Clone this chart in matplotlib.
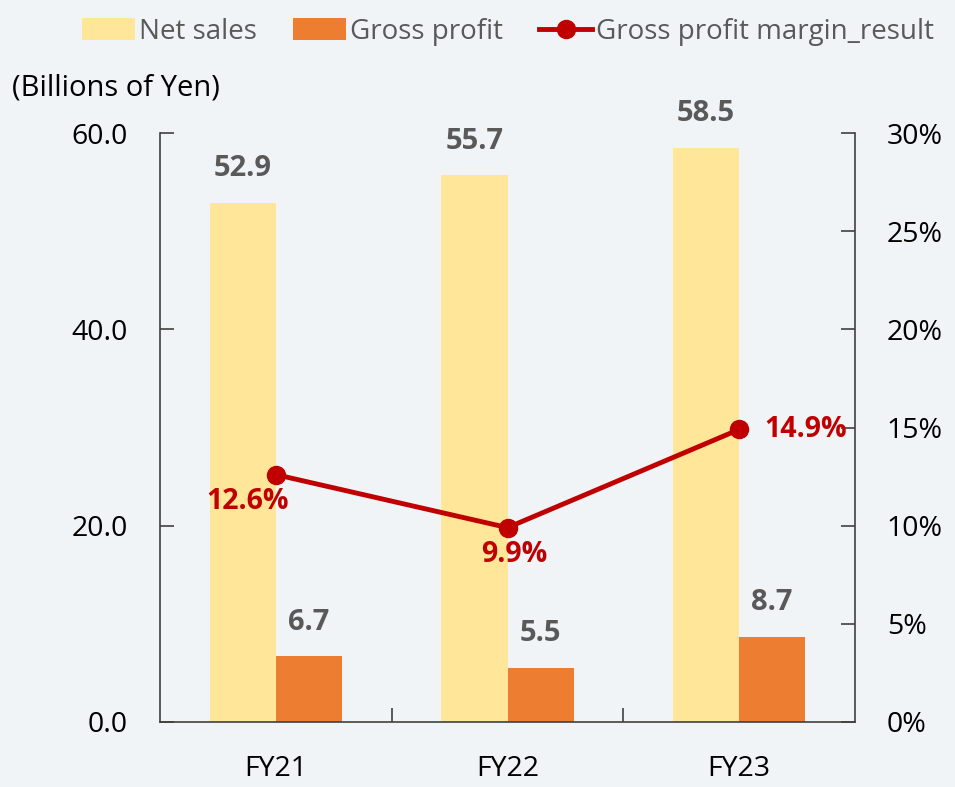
import matplotlib
matplotlib.use("Agg")
import matplotlib.pyplot as plt
import numpy as np

categories = ["FY21", "FY22", "FY23"]
net_sales = [52.9, 55.7, 58.5]
gross_profit = [6.7, 5.5, 8.7]
margin = [12.6, 9.9, 14.9]
left_ticks = [0, 20, 40, 60]
right_ticks = [0, 5, 10, 15, 20, 25, 30]

plt.rcParams['font.family'] = ['Open Sans', 'DejaVu Sans']
bg = '#F0F4F6'
gray = '#595959'
red = '#C00000'
fs = 20.5

fig = plt.figure(figsize=(9.55, 7.87), dpi=100, facecolor=bg)
ax = fig.add_axes([160/955, 1-722/787, (855-160)/955, (722-133)/787])
ax.set_facecolor(bg)
ax2 = ax.twinx()

x = np.arange(len(categories))
w = 0.285
b1 = ax.bar(x - w/2, net_sales, w, color='#FFE699', label='Net sales', zorder=2)
b2 = ax.bar(x + w/2, gross_profit, w, color='#ED7D31', label='Gross profit', zorder=2)
ax.set_xlim(-0.5, 2.5)
ax.set_ylim(0, 60)
ax.set_yticks(left_ticks)
ax.set_yticklabels([f"{v:.1f}" for v in left_ticks], fontsize=fs, color='black')
ax.set_xticks(x)
ax.set_xticklabels(categories, fontsize=fs, color='black')
ax.set_xticks([0.5, 1.5], minor=True)
ax.tick_params(axis='x', which='major', length=0, pad=24)
ax.tick_params(axis='x', which='minor', length=10, direction='in', width=1.2, color='#404040')
ax.tick_params(axis='y', length=10, direction='in', width=1.2, color='#404040', pad=23)
for s in ['top', 'right']:
    ax.spines[s].set_visible(False)
for s in ['left', 'bottom']:
    ax.spines[s].set_linewidth(1.2)
    ax.spines[s].set_color('#404040')

for xi, v in zip(x, net_sales):
    ax.text(xi - w/2, v + 2.0, f"{v:.1f}", ha='center', va='bottom', fontsize=fs+0.5, fontweight='bold', color=gray)
for xi, v in zip(x, gross_profit):
    ax.text(xi + w/2, v + 2.0, f"{v:.1f}", ha='center', va='bottom', fontsize=fs+0.5, fontweight='bold', color=gray)

ln, = ax2.plot(x, margin, color=red, lw=3.5, marker='o', ms=13, label='Gross profit margin_result', zorder=3)
ax2.set_ylim(0, 30)
ax2.set_yticks(right_ticks)
ax2.set_yticklabels([f"{v}%" for v in right_ticks], fontsize=fs, color='black')
ax2.tick_params(axis='y', length=10, direction='in', width=1.2, color='#404040', pad=23)
for s in ['top', 'left', 'bottom']:
    ax2.spines[s].set_visible(False)
ax2.spines['right'].set_linewidth(1.2)
ax2.spines['right'].set_color('#404040')

offsets = [(-0.12, -1.35, 'center', 'center'), (0.03, -1.35, 'center', 'center'), (0.11, 0, 'left', 'center')]
for xi, v, (dx, dy, ha, va) in zip(x, margin, offsets):
    ax2.text(xi + dx, v + dy, f"{v:.1f}%", ha=ha, va=va, fontsize=fs, fontweight='bold', color=red, zorder=4)

fig.text(12/955, 1-88/787, "(Billions of Yen)", fontsize=fs+0.5, color='black', va='center', ha='left')

leg = fig.legend([b1, b2, ln], ['Net sales', 'Gross profit', 'Gross profit margin_result'],
                 loc='upper right', bbox_to_anchor=(948/955, 1 - 4/787), borderaxespad=0.3, ncol=3, frameon=False,
                 fontsize=20, handlelength=1.9, handletextpad=0.15, columnspacing=1.3,
                 handleheight=0.85, borderpad=0.2)
for t in leg.get_texts():
    t.set_color(gray)

fig.savefig("out.png", dpi=100, facecolor=bg)
